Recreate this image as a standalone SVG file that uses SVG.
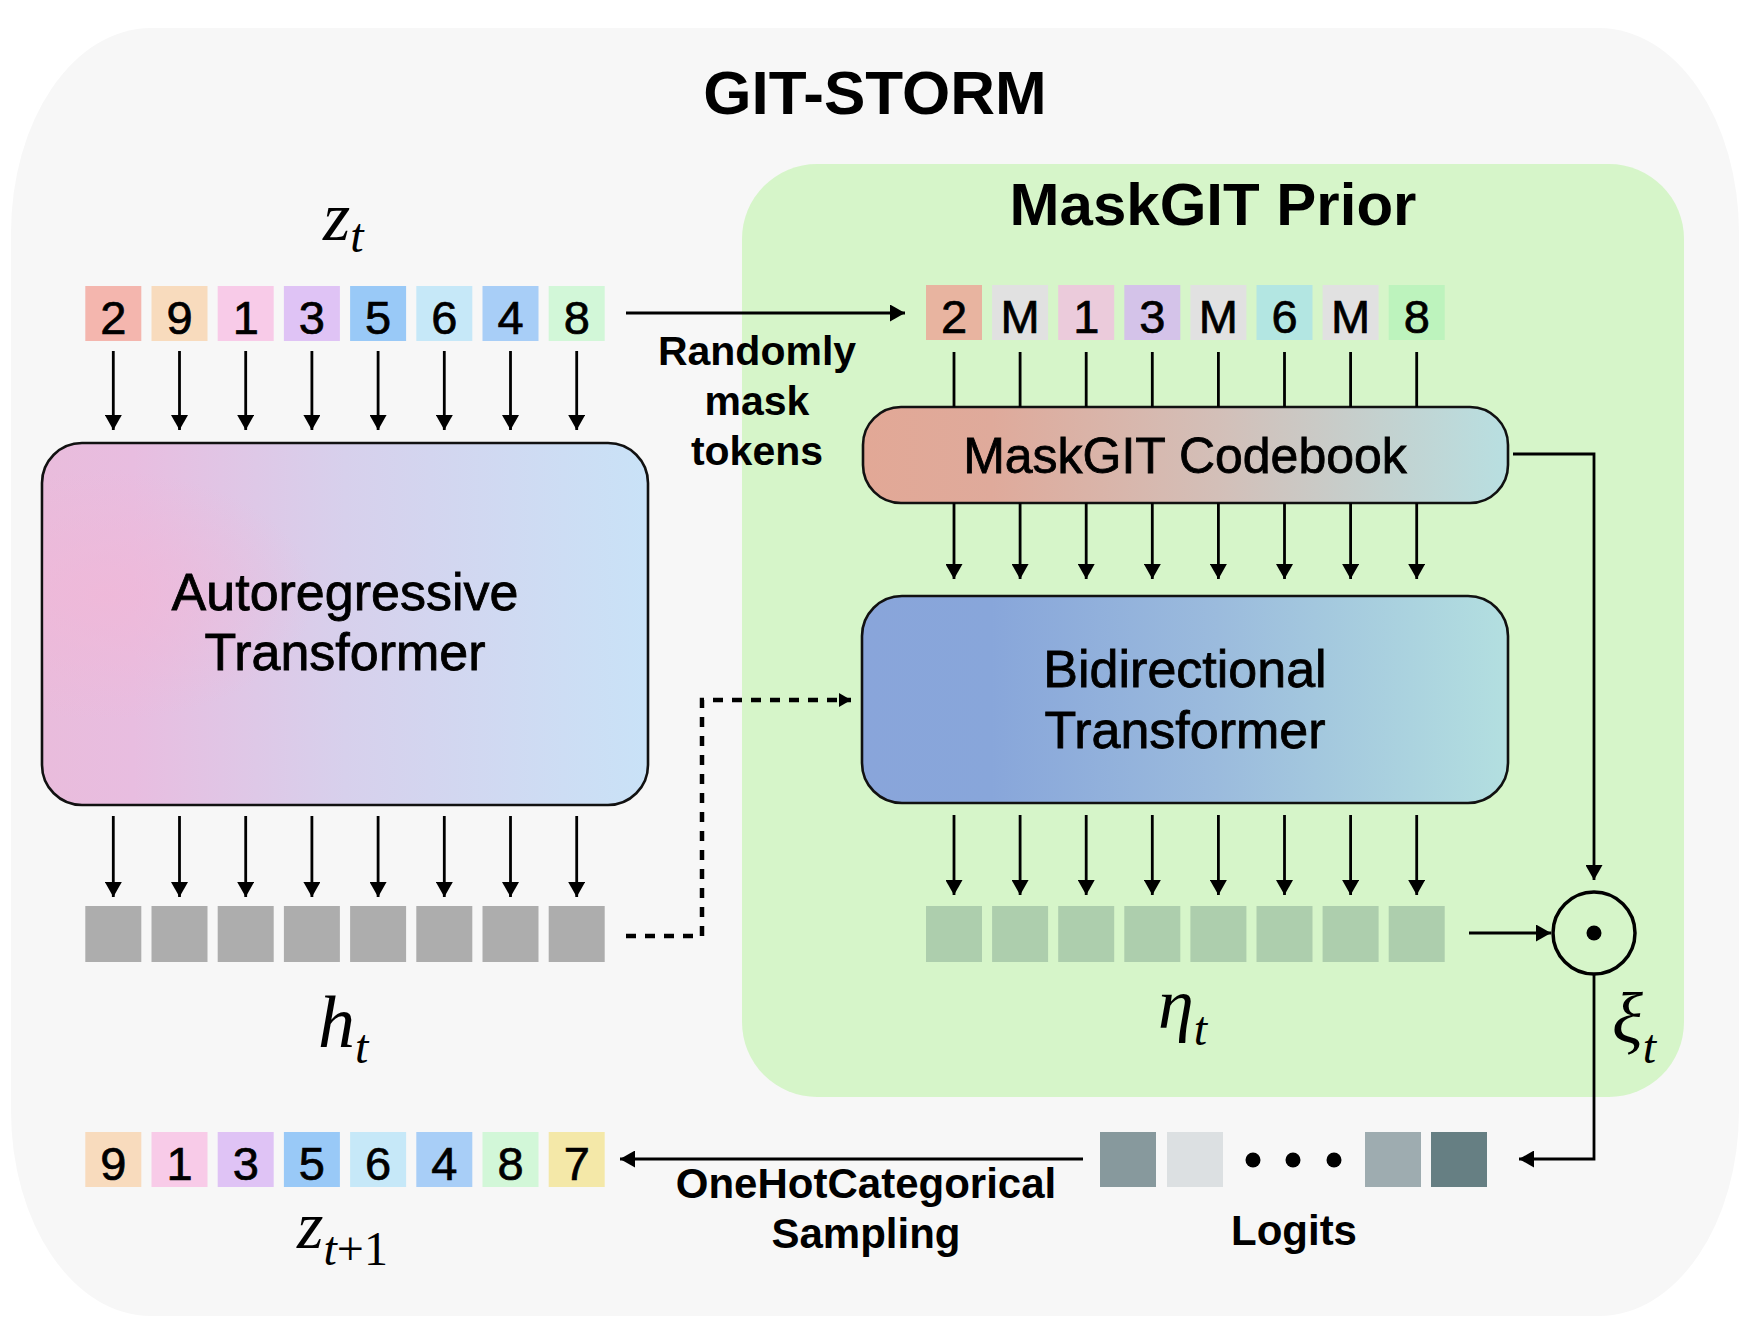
<svg xmlns="http://www.w3.org/2000/svg" width="1746" height="1334" viewBox="0 0 1746 1334">
<defs>
<style>
.tok{stroke:none}
.dg{font-family:"Liberation Sans",Arial,sans-serif;font-size:47px;fill:#000;text-anchor:middle;stroke:#000;stroke-width:0.7}
.lbl{font-family:"Liberation Sans",Arial,sans-serif;fill:#000;text-anchor:middle}
.reg{stroke:#000;stroke-width:0.8}
.b{font-weight:bold}
.math{font-family:"Liberation Serif","Times New Roman",serif;font-style:italic;fill:#000}
.ar{fill:none;stroke:#000;stroke-width:2.8}
.box{stroke:#111;stroke-width:2.6}
</style>
<marker id="ah" markerUnits="userSpaceOnUse" markerWidth="16" markerHeight="17" refX="15" refY="8.5" orient="auto">
<path d="M0,0 L15,8.5 L0,17 Z" fill="#000"/>
</marker>
<marker id="ahs" markerUnits="userSpaceOnUse" markerWidth="13" markerHeight="14" refX="12" refY="7" orient="auto">
<path d="M0,0 L12,7 L0,14 Z" fill="#000"/>
</marker>
<linearGradient id="gAR" x1="0" y1="0" x2="1" y2="0">
<stop offset="0" stop-color="#e9bcdc"/>
<stop offset="0.15" stop-color="#e8bde0"/>
<stop offset="0.5" stop-color="#d7d0ec"/>
<stop offset="1" stop-color="#c9e2f7"/>
</linearGradient>
<radialGradient id="gARr" cx="0.1" cy="0.42" r="0.35">
<stop offset="0" stop-color="#f0b8d8" stop-opacity="0.8"/>
<stop offset="1" stop-color="#f0b8d8" stop-opacity="0"/>
</radialGradient>
<linearGradient id="gCB" x1="0" y1="0" x2="1" y2="0">
<stop offset="0" stop-color="#e2a896"/>
<stop offset="0.2" stop-color="#dfaa9b"/>
<stop offset="0.55" stop-color="#d3bfb8"/>
<stop offset="1" stop-color="#b8dfe1"/>
</linearGradient>
<linearGradient id="gBT" x1="0" y1="0" x2="1" y2="0">
<stop offset="0" stop-color="#89a5da"/>
<stop offset="0.2" stop-color="#88a6da"/>
<stop offset="0.55" stop-color="#9bbbdd"/>
<stop offset="1" stop-color="#b3dfe0"/>
</linearGradient>
</defs>

<g id="background">
<rect x="11" y="28" width="1728" height="1288" rx="140" ry="205" fill="#f7f7f7"/>
<text class="lbl b" x="875" y="114" font-size="62">GIT-STORM</text>
</g>

<g id="maskgit-prior">
<rect x="742" y="164" width="942" height="933" rx="75" ry="75" fill="#d6f5c9"/>
<text class="lbl b" x="1213" y="225" font-size="60">MaskGIT Prior</text>
</g>

<g id="z-t">
<rect class="tok" x="85.3" y="286" width="56" height="55" fill="#f4b6ae"/>
<rect class="tok" x="151.5" y="286" width="56" height="55" fill="#f8dbbd"/>
<rect class="tok" x="217.7" y="286" width="56" height="55" fill="#f8cbe8"/>
<rect class="tok" x="283.9" y="286" width="56" height="55" fill="#dfc3f5"/>
<rect class="tok" x="350.1" y="286" width="56" height="55" fill="#99c9f7"/>
<rect class="tok" x="416.3" y="286" width="56" height="55" fill="#c6e8f8"/>
<rect class="tok" x="482.5" y="286" width="56" height="55" fill="#a8cef7"/>
<rect class="tok" x="548.7" y="286" width="56" height="55" fill="#d2f7d8"/>
<text class="dg" x="113.3" y="334">2</text>
<text class="dg" x="179.5" y="334">9</text>
<text class="dg" x="245.7" y="334">1</text>
<text class="dg" x="311.9" y="334">3</text>
<text class="dg" x="378.1" y="334">5</text>
<text class="dg" x="444.3" y="334">6</text>
<text class="dg" x="510.5" y="334">4</text>
<text class="dg" x="576.7" y="334">8</text>
<text class="math" x="323" y="240" font-size="70">z<tspan font-size="48" dy="12">t</tspan></text>
</g>

<g id="masked-tokens">
<rect class="tok" x="926" y="285" width="56" height="55" fill="#e8b4a0"/>
<rect class="tok" x="992.1" y="285" width="56" height="55" fill="#e1e1e1"/>
<rect class="tok" x="1058.2" y="285" width="56" height="55" fill="#ebcbdb"/>
<rect class="tok" x="1124.3" y="285" width="56" height="55" fill="#d4c3e9"/>
<rect class="tok" x="1190.4" y="285" width="56" height="55" fill="#e1e1e1"/>
<rect class="tok" x="1256.5" y="285" width="56" height="55" fill="#b3e6e2"/>
<rect class="tok" x="1322.6" y="285" width="56" height="55" fill="#e1e1e1"/>
<rect class="tok" x="1388.7" y="285" width="56" height="55" fill="#bdf3bd"/>
<text class="dg" x="954" y="333">2</text>
<text class="dg" x="1020.1" y="333">M</text>
<text class="dg" x="1086.2" y="333">1</text>
<text class="dg" x="1152.3" y="333">3</text>
<text class="dg" x="1218.4" y="333">M</text>
<text class="dg" x="1284.5" y="333">6</text>
<text class="dg" x="1350.6" y="333">M</text>
<text class="dg" x="1416.7" y="333">8</text>
</g>

<g id="randomly-mask-label">
<text class="lbl b" x="757" y="365" font-size="41">Randomly</text>
<text class="lbl b" x="757" y="415" font-size="41">mask</text>
<text class="lbl b" x="757" y="465" font-size="41">tokens</text>
</g>

<g id="autoregressive-transformer">
<rect class="box" x="42" y="443" width="606" height="362" rx="40" ry="40" fill="url(#gAR)"/>
<rect x="43.3" y="444.3" width="603.4" height="359.4" rx="39" ry="39" fill="url(#gARr)"/>
<text class="lbl reg" x="345" y="610" font-size="52">Autoregressive</text>
<text class="lbl reg" x="345" y="670" font-size="52">Transformer</text>
</g>

<g id="maskgit-codebook">
<rect class="box" x="863" y="407" width="645" height="96" rx="38" ry="38" fill="url(#gCB)"/>
<text class="lbl reg" x="1185" y="473" font-size="50">MaskGIT Codebook</text>
</g>

<g id="bidirectional-transformer">
<rect class="box" x="862" y="596" width="646" height="207" rx="40" ry="40" fill="url(#gBT)"/>
<text class="lbl reg" x="1185" y="687" font-size="52">Bidirectional</text>
<text class="lbl reg" x="1185" y="748" font-size="52">Transformer</text>
</g>

<g id="h-t">
<rect class="tok" x="85.3" y="906" width="56" height="56" fill="#adadad"/>
<rect class="tok" x="151.5" y="906" width="56" height="56" fill="#adadad"/>
<rect class="tok" x="217.7" y="906" width="56" height="56" fill="#adadad"/>
<rect class="tok" x="283.9" y="906" width="56" height="56" fill="#adadad"/>
<rect class="tok" x="350.1" y="906" width="56" height="56" fill="#adadad"/>
<rect class="tok" x="416.3" y="906" width="56" height="56" fill="#adadad"/>
<rect class="tok" x="482.5" y="906" width="56" height="56" fill="#adadad"/>
<rect class="tok" x="548.7" y="906" width="56" height="56" fill="#adadad"/>
<text class="math" x="318" y="1047" font-size="74">h<tspan font-size="48" dy="16">t</tspan></text>
</g>

<g id="eta-t">
<rect class="tok" x="926" y="906" width="56" height="56" fill="#adcead"/>
<rect class="tok" x="992.1" y="906" width="56" height="56" fill="#adcead"/>
<rect class="tok" x="1058.2" y="906" width="56" height="56" fill="#adcead"/>
<rect class="tok" x="1124.3" y="906" width="56" height="56" fill="#adcead"/>
<rect class="tok" x="1190.4" y="906" width="56" height="56" fill="#adcead"/>
<rect class="tok" x="1256.5" y="906" width="56" height="56" fill="#adcead"/>
<rect class="tok" x="1322.6" y="906" width="56" height="56" fill="#adcead"/>
<rect class="tok" x="1388.7" y="906" width="56" height="56" fill="#adcead"/>
<text class="math" x="1158" y="1028" font-size="72">η<tspan font-size="48" dy="17">t</tspan></text>
</g>

<g id="hadamard">
<circle cx="1594" cy="933" r="41" fill="none" stroke="#000" stroke-width="3.5"/>
<circle cx="1594" cy="933" r="7.5" fill="#000"/>
<text class="math" x="1612" y="1043" font-size="72">ξ<tspan font-size="48" dy="20">t</tspan></text>
</g>

<g id="logits">
<rect class="tok" x="1100" y="1132" width="56" height="55" fill="#87999d"/>
<rect class="tok" x="1167" y="1132" width="56" height="55" fill="#dce0e2"/>
<circle cx="1253" cy="1160" r="7.5" fill="#000"/>
<circle cx="1293" cy="1160" r="7.5" fill="#000"/>
<circle cx="1334" cy="1160" r="7.5" fill="#000"/>
<rect class="tok" x="1365" y="1132" width="56" height="55" fill="#9eacb0"/>
<rect class="tok" x="1431" y="1132" width="56" height="55" fill="#667f83"/>
<text class="lbl b" x="1294" y="1245" font-size="42">Logits</text>
</g>

<g id="sampling-label">
<text class="lbl b" x="866" y="1198" font-size="42">OneHotCategorical</text>
<text class="lbl b" x="866" y="1248" font-size="42">Sampling</text>
</g>

<g id="z-t1">
<rect class="tok" x="85.3" y="1132" width="56" height="55" fill="#f8dbbd"/>
<rect class="tok" x="151.5" y="1132" width="56" height="55" fill="#f8cbe8"/>
<rect class="tok" x="217.7" y="1132" width="56" height="55" fill="#dfc3f5"/>
<rect class="tok" x="283.9" y="1132" width="56" height="55" fill="#99c9f7"/>
<rect class="tok" x="350.1" y="1132" width="56" height="55" fill="#c6e8f8"/>
<rect class="tok" x="416.3" y="1132" width="56" height="55" fill="#a8cef7"/>
<rect class="tok" x="482.5" y="1132" width="56" height="55" fill="#d2f7d8"/>
<rect class="tok" x="548.7" y="1132" width="56" height="55" fill="#f4e8a8"/>
<text class="dg" x="113.3" y="1180">9</text>
<text class="dg" x="179.5" y="1180">1</text>
<text class="dg" x="245.7" y="1180">3</text>
<text class="dg" x="311.9" y="1180">5</text>
<text class="dg" x="378.1" y="1180">6</text>
<text class="dg" x="444.3" y="1180">4</text>
<text class="dg" x="510.5" y="1180">8</text>
<text class="dg" x="576.7" y="1180">7</text>
<text class="math" x="297" y="1248" font-size="68">z<tspan font-size="48" dy="17">t</tspan><tspan font-size="48" font-style="normal">+1</tspan></text>
</g>

<g id="connectors">
<path class="ar" marker-end="url(#ah)" d="M113.3,351V430"/>
<path class="ar" marker-end="url(#ah)" d="M179.5,351V430"/>
<path class="ar" marker-end="url(#ah)" d="M245.7,351V430"/>
<path class="ar" marker-end="url(#ah)" d="M311.9,351V430"/>
<path class="ar" marker-end="url(#ah)" d="M378.1,351V430"/>
<path class="ar" marker-end="url(#ah)" d="M444.3,351V430"/>
<path class="ar" marker-end="url(#ah)" d="M510.5,351V430"/>
<path class="ar" marker-end="url(#ah)" d="M576.7,351V430"/>

<path class="ar" marker-end="url(#ah)" d="M113.3,816V897"/>
<path class="ar" marker-end="url(#ah)" d="M179.5,816V897"/>
<path class="ar" marker-end="url(#ah)" d="M245.7,816V897"/>
<path class="ar" marker-end="url(#ah)" d="M311.9,816V897"/>
<path class="ar" marker-end="url(#ah)" d="M378.1,816V897"/>
<path class="ar" marker-end="url(#ah)" d="M444.3,816V897"/>
<path class="ar" marker-end="url(#ah)" d="M510.5,816V897"/>
<path class="ar" marker-end="url(#ah)" d="M576.7,816V897"/>

<path class="ar" marker-end="url(#ah)" d="M626,313H905"/>

<path class="ar" d="M954,352V407M1020.1,352V407M1086.2,352V407M1152.3,352V407M1218.4,352V407M1284.5,352V407M1350.6,352V407M1416.7,352V407"/>

<path class="ar" marker-end="url(#ah)" d="M954,503V579"/>
<path class="ar" marker-end="url(#ah)" d="M1020.1,503V579"/>
<path class="ar" marker-end="url(#ah)" d="M1086.2,503V579"/>
<path class="ar" marker-end="url(#ah)" d="M1152.3,503V579"/>
<path class="ar" marker-end="url(#ah)" d="M1218.4,503V579"/>
<path class="ar" marker-end="url(#ah)" d="M1284.5,503V579"/>
<path class="ar" marker-end="url(#ah)" d="M1350.6,503V579"/>
<path class="ar" marker-end="url(#ah)" d="M1416.7,503V579"/>

<path class="ar" marker-end="url(#ah)" d="M954,815V895"/>
<path class="ar" marker-end="url(#ah)" d="M1020.1,815V895"/>
<path class="ar" marker-end="url(#ah)" d="M1086.2,815V895"/>
<path class="ar" marker-end="url(#ah)" d="M1152.3,815V895"/>
<path class="ar" marker-end="url(#ah)" d="M1218.4,815V895"/>
<path class="ar" marker-end="url(#ah)" d="M1284.5,815V895"/>
<path class="ar" marker-end="url(#ah)" d="M1350.6,815V895"/>
<path class="ar" marker-end="url(#ah)" d="M1416.7,815V895"/>

<path fill="none" stroke="#000" stroke-width="4.5" stroke-dasharray="10 9" marker-end="url(#ahs)" d="M626,936H702V700H851"/>

<path class="ar" marker-end="url(#ah)" d="M1513,454H1594V880"/>
<path class="ar" marker-end="url(#ah)" d="M1469,933H1551"/>
<path class="ar" marker-end="url(#ah)" d="M1594,974V1159H1519"/>
<path class="ar" marker-end="url(#ah)" d="M1083,1159H620"/>
</g>
</svg>
